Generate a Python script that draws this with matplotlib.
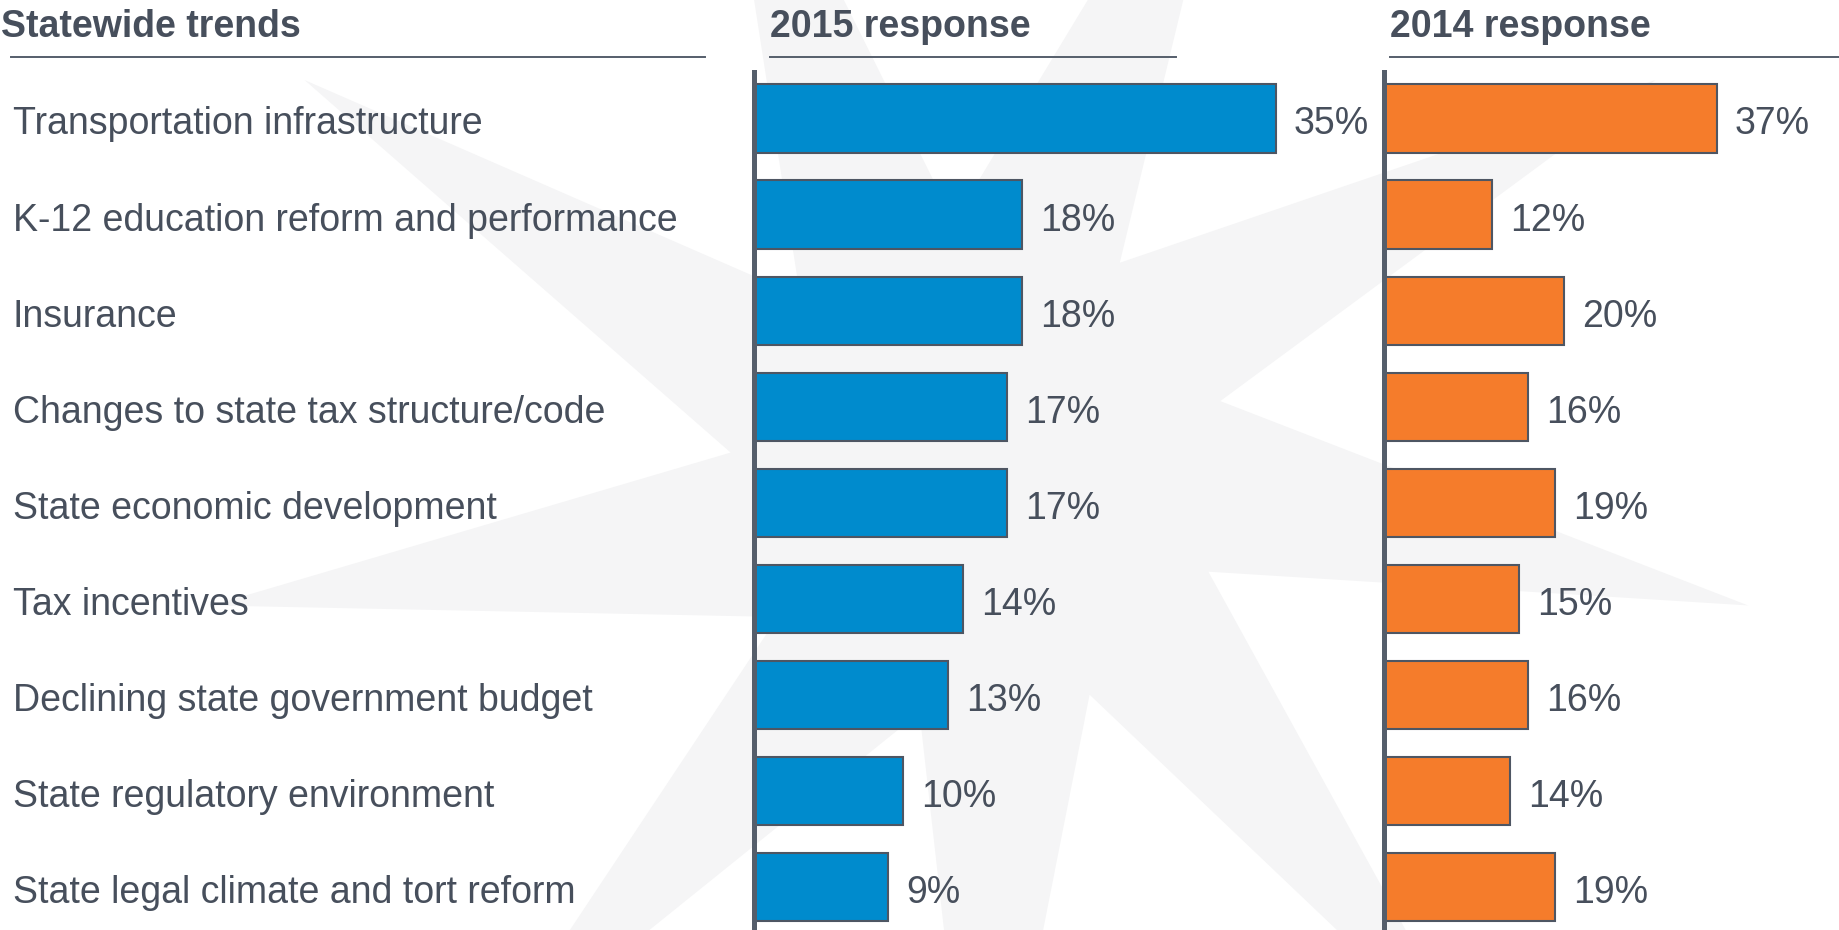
import numpy as np
import matplotlib.pyplot as plt
import matplotlib.transforms as mtransforms
from matplotlib.lines import Line2D
from matplotlib.patches import Polygon

plt.rcParams['font.family'] = ['Liberation Sans', 'DejaVu Sans']

trends = [
    'Transportation infrastructure',
    'K-12 education reform and performance',
    'Insurance',
    'Changes to state tax structure/code',
    'State economic development',
    'Tax incentives',
    'Declining state government budget',
    'State regulatory environment',
    'State legal climate and tort reform',
]
resp_2015 = [35, 18, 18, 17, 17, 14, 13, 10, 9]
resp_2014 = [37, 12, 20, 16, 19, 15, 16, 14, 19]

text_col = '#474f5c'
line_col = '#555e6b'
edge_col = '#4e5663'
blue = '#008bcd'
orange = '#f57c2b'
fs = 27

W, H = 1839, 930
fig = plt.figure(figsize=(W / 100, H / 100), dpi=100)
fig.patch.set_facecolor('white')

# faint pinwheel watermark behind everything
cx, cy = 980, 470
n_pts = 9
pts = []
for k in range(n_pts):
    a = np.deg2rad(10 + k * 40)
    pts.append((cx + 780 * np.cos(a), cy + 780 * np.sin(a)))
    b = np.deg2rad(10 + k * 40 + 14)
    pts.append((cx + 250 * np.cos(b), cy + 250 * np.sin(b)))
pts = np.array(pts)
star = Polygon(np.column_stack([pts[:, 0] / W, 1 - pts[:, 1] / H]),
               closed=True, transform=fig.transFigure, facecolor='#f5f5f6',
               edgecolor='none', zorder=0)
fig.add_artist(star)

y = np.arange(len(trends))
ylim = (8.448, -0.484)


def panel(left_px, width_px, px_per_pct, values, color):
    ax = fig.add_axes([left_px / W, 0, width_px / W, 858 / H])
    ax.set_facecolor('none')
    ax.barh(y, values, height=0.71, color=color, edgecolor=edge_col, linewidth=1.5, zorder=2)
    ax.set_xlim(0, width_px / px_per_pct)
    ax.set_ylim(*ylim)
    for s in ['top', 'right', 'bottom']:
        ax.spines[s].set_visible(False)
    ax.spines['left'].set_linewidth(3.6)
    ax.spines['left'].set_color(line_col)
    ax.spines['left'].set_zorder(3)
    ax.set_xticks([])
    ax.set_yticks([])
    for yi, v in zip(y, values):
        ax.annotate(f'{v}%', (v, yi), xytext=(13, -4.3), textcoords='offset points',
                    ha='left', va='center', fontsize=fs, color=text_col)
    return ax


ax15 = panel(754, 606, 14.9, resp_2015, blue)
ax14 = panel(1384, 455, 9.0, resp_2014, orange)

# row labels on the left, nudged down a little to sit on the bar centres
trans = mtransforms.blended_transform_factory(fig.transFigure, ax15.transData)
trans = mtransforms.offset_copy(trans, fig=fig, y=-6, units='dots')
for yi, name in zip(y, trends):
    fig.text(13 / W, yi, name, transform=trans, ha='left', va='center',
             fontsize=fs, color=text_col)

# column headers with rules underneath
headers = [('Statewide trends', 1, 11, 705),
           ('2015 response', 770, 770, 1176),
           ('2014 response', 1390, 1390, 1839)]
for title, tx, x0, x1 in headers:
    fig.text(tx / W, 1 - 27 / H, title, ha='left', va='center', fontsize=fs,
             fontweight='bold', color=text_col)
    fig.add_artist(Line2D([x0 / W, x1 / W], [1 - 57 / H, 1 - 57 / H],
                          transform=fig.transFigure, color=line_col, linewidth=1.4))

fig.savefig('out.png', dpi=100)
